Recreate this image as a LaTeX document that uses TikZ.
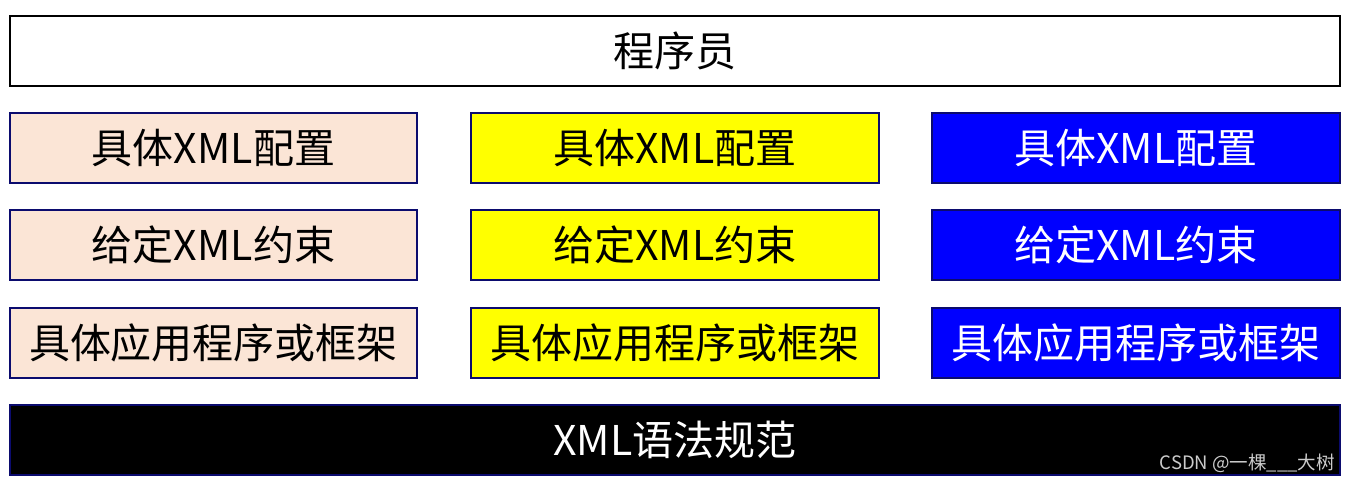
\documentclass[tikz,border=0pt]{standalone}
\usepackage{fontspec}
\setmainfont{Noto Sans CJK SC}
\newfontfamily\wmfont{Noto Sans CJK SC}
\begin{document}
\begin{tikzpicture}[x=1pt,y=-1pt,
  box/.style={draw=navyb, line width=2pt, minimum height=70pt, inner sep=0pt, font=\fontsize{41}{43}\selectfont, anchor=north west},
  peach/.style={box, fill=peachc, text=black},
  yel/.style={box, fill=yelc, text=black},
  blu/.style={box, fill=bluc, text=white},
  ]
\definecolor{navyb}{RGB}{11,11,110}
\definecolor{peachc}{RGB}{251,229,214}
\definecolor{yelc}{RGB}{255,255,0}
\definecolor{bluc}{RGB}{0,0,255}
\useasboundingbox (0,0) rectangle (1353,484);
\node[box, draw=black, fill=white, minimum width=1330pt] (top) at (9,15) {程序员};
\foreach \r/\y/\t in {1/112/具体XML配置, 2/209/给定XML约束, 3/307/具体应用程序或框架}{
  \node[peach, minimum width=407pt] (a\r) at (9,\y) {\t};
  \node[yel, minimum width=408pt] (b\r) at (470,\y) {\t};
  \node[blu, minimum width=408pt] (c\r) at (931,\y) {\t};
}
\node[box, fill=black, text=white, minimum width=1330pt] (bot) at (9,404) {XML语法规范};
\node[anchor=south east, inner sep=0pt, text=black!20, font=\wmfont\fontsize{18.5}{20}\selectfont] (wm) at (1335,473) {CSDN @一棵\_\_\_大树};
\end{tikzpicture}
\end{document}
